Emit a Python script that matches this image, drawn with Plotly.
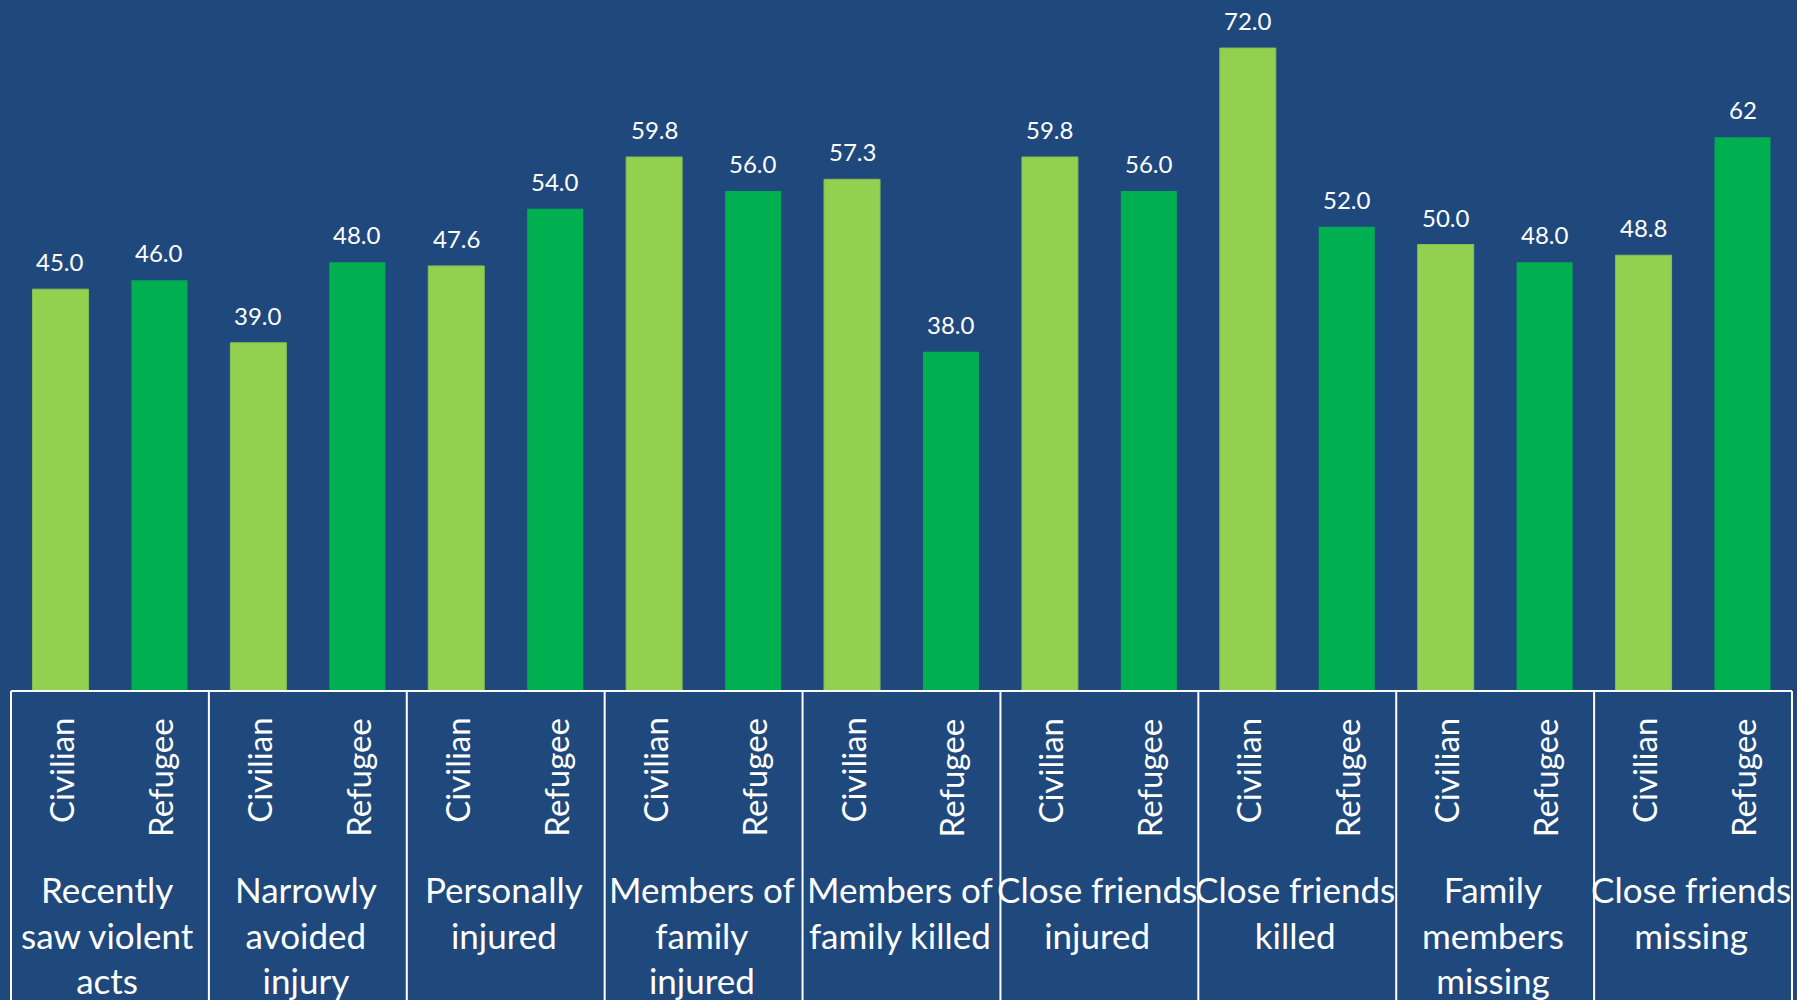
import plotly.graph_objects as go

# ---- data ----
categories = [
    "Recently<br>saw violent<br>acts",
    "Narrowly<br>avoided<br>injury",
    "Personally<br>injured",
    "Members of<br>family<br>injured",
    "Members of<br>family killed",
    "Close friends<br>injured",
    "Close friends<br>killed",
    "Family<br>members<br>missing",
    "Close friends<br>missing",
]
series_names = ["Civilian", "Refugee"]
civilian = [45.0, 39.0, 47.6, 59.8, 57.3, 59.8, 72.0, 50.0, 48.8]
refugee = [46.0, 48.0, 54.0, 56.0, 38.0, 56.0, 52.0, 48.0, 62]
civilian_labels = ["45.0", "39.0", "47.6", "59.8", "57.3", "59.8", "72.0", "50.0", "48.8"]
refugee_labels = ["46.0", "48.0", "54.0", "56.0", "38.0", "56.0", "52.0", "48.0", "62"]

# ---- style ----
BG = "#1F497D"
C_CIV = "#92D050"
C_REF = "#00B050"
FONT = "Lato"
n = len(categories)
x_civ = [2 * i for i in range(n)]
x_ref = [2 * i + 1 for i in range(n)]

fig = go.Figure()
fig.add_trace(go.Bar(x=x_civ, y=civilian, name=series_names[0], width=0.566,
                     marker=dict(color=C_CIV, line=dict(color="#86BE55", width=1))))
fig.add_trace(go.Bar(x=x_ref, y=refugee, name=series_names[1], width=0.566,
                     marker=dict(color=C_REF, line=dict(width=0))))

ann = []
for xs, ys, labs in ((x_civ, civilian, civilian_labels), (x_ref, refugee, refugee_labels)):
    for x, y, t in zip(xs, ys, labs):
        ann.append(dict(x=x, y=y, xref="x", yref="y", text=t, showarrow=False,
                        yanchor="bottom", xanchor="center", yshift=11,
                        font=dict(family=FONT, size=24, color="white")))

# series labels (rotated)
for xs, name in ((x_civ, series_names[0]), (x_ref, series_names[1])):
    for x in xs:
        ann.append(dict(x=x, y=0, xref="x", yref="paper", text=name, showarrow=False,
                        textangle=-90, yanchor="top", xanchor="center", yshift=-25,
                        font=dict(family=FONT, size=33, color="white")))

# category labels
for i, c in enumerate(categories):
    ann.append(dict(x=2 * i + 0.5, y=0, xref="x", yref="paper", text=c, showarrow=False,
                    yanchor="top", xanchor="center", xshift=-2, yshift=-175, align="center",
                    font=dict(family=FONT, size=35, color="white")))

shapes = [dict(type="line", xref="paper", yref="paper", x0=0, x1=1, y0=0, y1=0,
               line=dict(color="white", width=2))]
for k in range(n + 1):
    shapes.append(dict(type="line", xref="paper", yref="paper", x0=k / n, x1=k / n,
                       y0=0, y1=-0.5, line=dict(color="white", width=2)))

fig.update_layout(
    width=1797, height=1000, autosize=False,
    paper_bgcolor=BG, plot_bgcolor=BG,
    margin=dict(l=11, r=5, t=0, b=309, pad=0),
    barmode="overlay", showlegend=False,
    xaxis=dict(range=[-0.5, 2 * n - 0.5], visible=False, fixedrange=True),
    yaxis=dict(range=[0, 691 / 8.93], visible=False, fixedrange=True),
    annotations=ann, shapes=shapes,
    font=dict(family=FONT, color="white"),
)

fig.write_html("out.html", config={"displayModeBar": False},
               post_script="document.body.style.margin='0';")
